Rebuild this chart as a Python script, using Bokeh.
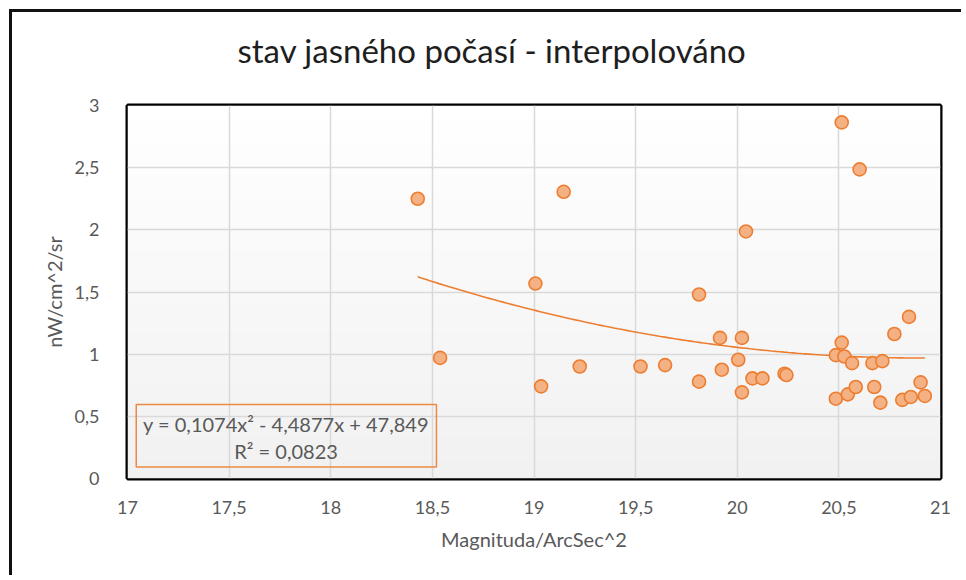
import numpy as np
from bokeh.plotting import figure
from bokeh.models import (ColumnDataSource, Label, BoxAnnotation, Title,
                          FixedTicker, CustomJSTickFormatter)
from bokeh.embed import file_html
from bokeh.resources import INLINE

# ---- data ----
magnitude = [18.428, 18.538, 19.007, 19.035, 19.146, 19.225, 19.524, 19.645,
             19.812, 19.812, 19.915, 19.924, 20.005, 20.023, 20.023, 20.043,
             20.075, 20.124, 20.233, 20.242, 20.485, 20.485, 20.514, 20.514,
             20.527, 20.544, 20.565, 20.583, 20.602, 20.665, 20.674, 20.704,
             20.714, 20.773, 20.812, 20.845, 20.854, 20.902, 20.923]
radiance = [2.250, 0.970, 1.568, 0.741, 2.306, 0.901, 0.901, 0.912,
            1.480, 0.779, 1.131, 0.875, 0.955, 1.131, 0.693, 1.987,
            0.805, 0.805, 0.843, 0.832, 0.992, 0.642, 2.864, 1.093,
            0.981, 0.677, 0.928, 0.736, 2.486, 0.928, 0.736, 0.610,
            0.944, 1.162, 0.632, 1.300, 0.656, 0.773, 0.664]
x_ticks = [17, 17.5, 18, 18.5, 19, 19.5, 20, 20.5, 21]
y_ticks = [0, 0.5, 1, 1.5, 2, 2.5, 3]
trend_coef = [0.1074, -4.4877, 47.849]   # from the chart's trendline equation
equation_text = "y = 0,1074x² - 4,4877x + 47,849"
r2_text = "R² = 0,0823"
title_text = "stav jasného počasí - interpolováno"

FONT = "Lato"
GRAY = "#595959"
ORANGE = "#ED7D31"

p = figure(width=952, height=566, output_backend="svg", toolbar_location=None,
           x_range=(17, 21), y_range=(0, 3),
           min_border_left=115, min_border_right=24,
           min_border_top=93, min_border_bottom=100)
p.styles = {"border-left": "3px solid #111111", "border-top": "3px solid #111111",
            "margin-left": "9px", "margin-top": "9px"}

p.outline_line_color = "black"
p.outline_line_width = 4
p.background_fill_color = "#f8f8f8"
p.border_fill_color = "white"

# gradient background of plot area
H = 64
img = np.empty((H, 1), dtype=np.uint32)
view = img.view(dtype=np.uint8).reshape((H, 1, 4))
for i in range(H):
    c = int(round(241 + 14 * i / (H - 1)))
    view[i, 0, :] = [c, c, c, 255]
p.image_rgba(image=[img], x=17, y=0, dw=4, dh=3, level="image")

# grid
for g in (p.xgrid, p.ygrid):
    g.grid_line_color = "#d9d9d9"
    g.grid_line_width = 1.5
p.xgrid.ticker = FixedTicker(ticks=x_ticks)
p.ygrid.ticker = FixedTicker(ticks=y_ticks)

fmt = "return tick.toString().replace('.', ',')"
for ax, ticks in ((p.xaxis[0], x_ticks), (p.yaxis[0], y_ticks)):
    ax.ticker = FixedTicker(ticks=ticks)
    ax.formatter = CustomJSTickFormatter(code=fmt)
    ax.axis_line_color = None
    ax.major_tick_line_color = None
    ax.minor_tick_line_color = None
    ax.major_label_text_font = FONT
    ax.major_label_text_font_size = "18px"
    ax.major_label_text_color = GRAY
    ax.axis_label_text_font = FONT
    ax.axis_label_text_font_size = "20px"
    ax.axis_label_text_color = GRAY
    ax.axis_label_text_font_style = "normal"

p.xaxis.axis_label = "Magnituda/ArcSec^2"
p.yaxis.axis_label = "nW/cm^2/sr"
p.xaxis.major_label_standoff = 16
p.xaxis.axis_label_standoff = 10
p.yaxis.major_label_standoff = 22
p.yaxis.axis_label_standoff = 6

# trendline (polynomial order 2 from chart equation)
tx = np.linspace(min(magnitude), max(magnitude), 120)
ty = np.polyval(trend_coef, tx)
p.line(tx, ty, line_color=ORANGE, line_width=1.6)

src = ColumnDataSource(dict(x=magnitude, y=radiance))
p.scatter("x", "y", source=src, size=13, marker="circle",
          fill_color="#F4B183", line_color=ORANGE, line_width=1.6)

# equation box
p.add_layout(BoxAnnotation(left=17.043, right=18.52, bottom=0.093, top=0.596,
                           fill_color=None, line_color=ORANGE, line_width=1.5,
                           line_alpha=0.9))
p.add_layout(Label(x=17.78, y=0.44, text=equation_text, text_align="center",
                   text_baseline="middle", text_font=FONT,
                   text_font_size="20px", text_color=GRAY))
p.add_layout(Label(x=17.78, y=0.218, text=r2_text, text_align="center",
                   text_baseline="middle", text_font=FONT,
                   text_font_size="20px", text_color=GRAY))

# spacer panel between frame and title, then the chart title above it
p.add_layout(Title(text=" ", text_font_size="1px", standoff=28), "above")
p.add_layout(Title(text=title_text, align="left", offset=110, standoff=10,
                   text_font=FONT, text_font_size="33px",
                   text_font_style="normal", text_color="#1e1e1e"), "above")

open("out.html", "w").write(file_html(p, INLINE))
